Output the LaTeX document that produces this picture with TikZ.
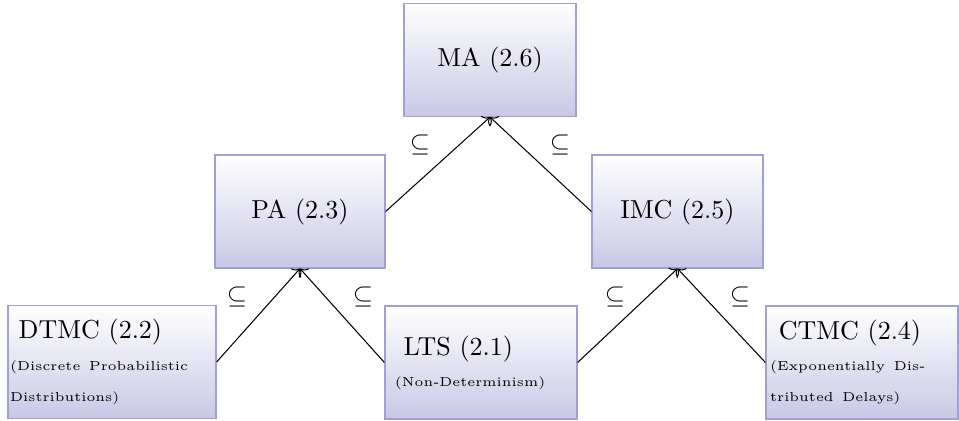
\documentclass[tikz,border=0pt]{standalone}
\usetikzlibrary{arrows.meta}
\definecolor{boxline}{RGB}{160,160,214}
\definecolor{boxfill}{RGB}{200,200,230}
\begin{document}
\begin{tikzpicture}[x=0.3846pt,y=-0.3846pt,
  box/.style={draw=boxline, line width=0.45pt, top color=white, bottom color=boxfill,
    minimum height=43.46pt, inner ysep=0pt, font=\normalsize},
  titlebox/.style={box, align=center},
  descbox/.style={box, align=left},
  conn/.style={->, line width=0.4pt, black},
  incl/.style={inner sep=0pt, font=\normalsize}]
\useasboundingbox (0,0) rectangle (959,421);

% model classes
\node[titlebox, minimum width=66.15pt] (ma) at (490,60) {MA (2.6)};
\node[titlebox, minimum width=65.4pt] (pa) at (300,211.5) {PA (2.3)};
\node[titlebox, minimum width=65.77pt] (imc) at (677.5,211.5) {IMC (2.5)};

\node[descbox, inner xsep=0.8pt, text width=78.4pt] (dtmc) at (112,362)
  {\hspace*{3.33pt}DTMC (2.2)\\
   \fontsize{5}{12}\selectfont\makebox[75pt][s]{(Discrete Probabilistic}\\Distributions)};
\node[descbox, inner xsep=3.8pt, text width=66.25pt] (lts) at (481,362.5)
  {\hspace*{3.33pt}LTS (2.1)\\
   \fontsize{5}{12}\selectfont(Non-Determinism)};
\node[descbox, inner xsep=1.6pt, text width=70.65pt] (ctmc) at (862,362.5)
  {\hspace*{3.33pt}CTMC (2.4)\\
   \fontsize{5}{12}\selectfont\makebox[61.5pt][s]{(Exponentially Dis-}\\tributed Delays)};

% inclusions
\draw[conn] (pa.east) -- (ma.south);
\draw[conn] (imc.west) -- (ma.south);
\draw[conn] (dtmc.east) -- (pa.south);
\draw[conn] (lts.west) -- (pa.south);
\draw[conn] (lts.east) -- (imc.south);
\draw[conn] (ctmc.west) -- (imc.south);

\node[incl] (i1) at (420,145) {$\subseteq$};
\node[incl] (i2) at (560,145) {$\subseteq$};
\node[incl] (i3) at (237,297) {$\subseteq$};
\node[incl] (i4) at (363,297) {$\subseteq$};
\node[incl] (i5) at (615,297) {$\subseteq$};
\node[incl] (i6) at (740,297) {$\subseteq$};
\end{tikzpicture}
\end{document}
